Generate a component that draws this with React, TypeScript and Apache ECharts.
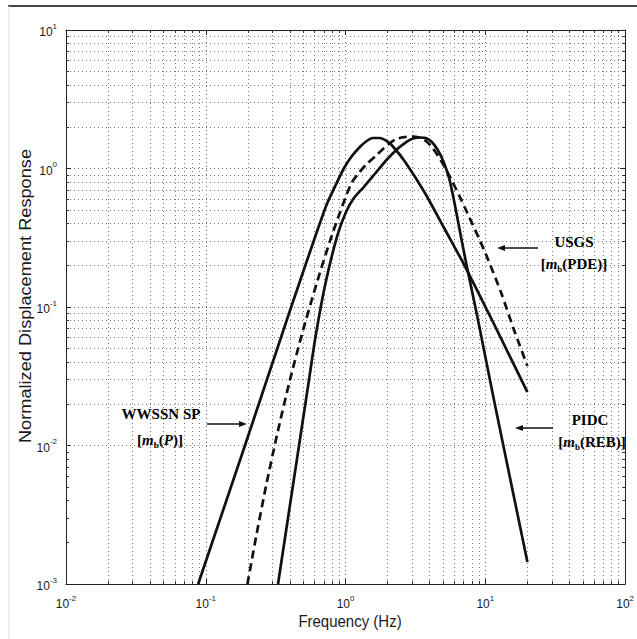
import React, { useEffect, useRef } from "react";
import * as echarts from "echarts";

// ---- data (Hz, normalized displacement response) ----
const wwssnFreq = [0.0882, 0.1891, 0.406, 0.6193, 0.7405, 0.857, 0.9759, 1.111, 1.266, 1.418, 1.563, 1.751, 1.963, 2.199, 2.672, 3.698, 5.117, 7.197, 11.53, 20];
const wwssnResp = [0.001, 0.00975, 0.0984, 0.3422, 0.5634, 0.773, 1.008, 1.231, 1.43, 1.58, 1.661, 1.661, 1.58, 1.43, 1.114, 0.6655, 0.3658, 0.1944, 0.0754, 0.0243];

const usgsFreq = [0.1987, 0.2311, 0.2717, 0.3245, 0.3937, 0.4879, 0.6193, 0.8043, 1.093, 1.245, 1.418, 1.641, 1.994, 2.308, 2.672, 3.043, 3.409, 3.758, 4.144, 4.796, 5.733, 6.528, 7.435, 9.8, 12.92, 15.95, 20];
const usgsResp = [0.001, 0.002296, 0.005272, 0.01211, 0.0278, 0.0638, 0.1466, 0.3365, 0.773, 0.9279, 1.078, 1.231, 1.478, 1.633, 1.688, 1.702, 1.661, 1.58, 1.43, 1.152, 0.826, 0.633, 0.4774, 0.258, 0.1283, 0.0694, 0.0375];

const pidcFreq = [0.3287, 0.3724, 0.422, 0.4783, 0.542, 0.6143, 0.7168, 0.871, 1.008, 1.148, 1.35, 1.641, 1.963, 2.346, 2.716, 3.043, 3.409, 3.758, 4.144, 4.566, 5.035, 5.551, 6.116, 6.636, 7.314, 8.748, 11.53, 20];
const pidcResp = [0.001, 0.002296, 0.005272, 0.01211, 0.0278, 0.0638, 0.1466, 0.3255, 0.4853, 0.612, 0.735, 0.928, 1.152, 1.383, 1.553, 1.647, 1.674, 1.661, 1.553, 1.36, 1.114, 0.826, 0.5187, 0.3365, 0.2044, 0.0861, 0.0213, 0.00144];

const xMin = 0.01, xMax = 100;
const yMin = 0.001, yMax = 10;
const xDecades = [-2, -1, 0, 1];
const yDecades = [-3, -2, -1, 0];
const minorMultipliers = [2, 3, 4, 5, 6, 7, 8, 9];

const SANS = "'Liberation Sans', Arial, Helvetica, sans-serif";
const SERIF = "'Liberation Serif', 'Times New Roman', serif";

function pairs(xs: number[], ys: number[]) {
  return xs.map((x, i) => [x, ys[i]]);
}

export default function App() {
  const ref = useRef<HTMLDivElement>(null);
  useEffect(() => {
    if (!ref.current) return;
    const chart = echarts.init(ref.current, undefined, { renderer: "svg" });

    const minorX: number[] = [];
    xDecades.forEach((d) => minorMultipliers.forEach((m) => minorX.push(m * Math.pow(10, d))));
    const minorY: number[] = [];
    yDecades.forEach((d) => minorMultipliers.forEach((m) => minorY.push(m * Math.pow(10, d))));

    const gridMinorLines: any[] = [
      ...minorX.map((v) => ({ xAxis: v })),
      ...minorY.map((v) => ({ yAxis: v })),
    ];
    const tx = 1.05, ty = 1.051;
    const minorTicks: any[] = [];
    minorX.forEach((v) => {
      minorTicks.push([{ coord: [v, yMin] }, { coord: [v, yMin * ty] }]);
      minorTicks.push([{ coord: [v, yMax] }, { coord: [v, yMax / ty] }]);
    });
    minorY.forEach((v) => {
      minorTicks.push([{ coord: [xMin, v] }, { coord: [xMin * tx, v] }]);
      minorTicks.push([{ coord: [xMax, v] }, { coord: [xMax / tx, v] }]);
    });

    const expLabel = (v: number) => {
      const e = Math.round(Math.log10(v));
      return `{b|10}{s|${e}}`;
    };
    const labelRich = {
      b: { fontSize: 12, lineHeight: 16, verticalAlign: "bottom", fontFamily: SANS, color: "#1a1a1a" },
      s: { fontSize: 8, lineHeight: 8, verticalAlign: "top", fontFamily: SANS, color: "#1a1a1a" },
    };

    const annRich = {
      t: { fontSize: 15, lineHeight: 18, fontWeight: "bold", fontFamily: SERIF, color: "#111", verticalAlign: "middle" },
      i: { fontSize: 15, lineHeight: 18, fontWeight: "bold", fontStyle: "italic", fontFamily: SERIF, color: "#111", verticalAlign: "middle" },
      sub: { fontSize: 9, lineHeight: 9, fontWeight: "bold", fontFamily: SERIF, color: "#111", verticalAlign: "bottom" },
    };
    const ann = (x: number, y: number, text: string) => ({
      type: "text",
      x,
      y,
      z: 10,
      style: { text, rich: annRich, align: "center", verticalAlign: "middle" },
    });
    const arrow = (x1: number, x2: number, y: number) => {
      const dir = x2 > x1 ? 1 : -1;
      return [
        { type: "line", z: 10, shape: { x1, y1: y, x2: x2 - dir * 4, y2: y }, style: { stroke: "#111", lineWidth: 1.6 } },
        {
          type: "polygon",
          z: 10,
          shape: { points: [[x2, y], [x2 - dir * 8, y - 3], [x2 - dir * 8, y + 3]] },
          style: { fill: "#111" },
        },
      ];
    };

    const curveStyle = { color: "#111", width: 2.7 };

    const option: any = {
      animation: false,
      backgroundColor: "#fff",
      grid: { left: 66, right: 4, top: 30, bottom: 55, containLabel: false },
      xAxis: [
        {
          type: "log",
          logBase: 10,
          min: xMin,
          max: xMax,
          axisLine: { show: true, lineStyle: { color: "#222", width: 1 } },
          axisTick: { show: true, inside: true, length: 5, lineStyle: { color: "#222" } },
          axisLabel: { formatter: expLabel, rich: labelRich, margin: 10 },
          splitLine: { show: true, lineStyle: { type: [1, 3], color: "#666", width: 1 } },
        },
        {
          type: "log",
          logBase: 10,
          min: xMin,
          max: xMax,
          position: "top",
          axisLine: { show: true, lineStyle: { color: "#222", width: 1 } },
          axisTick: { show: true, inside: true, length: 5, lineStyle: { color: "#222" } },
          axisLabel: { show: false },
          splitLine: { show: false },
        },
      ],
      yAxis: [
        {
          type: "log",
          logBase: 10,
          min: yMin,
          max: yMax,
          axisLine: { show: true, lineStyle: { color: "#222", width: 1 } },
          axisTick: { show: true, inside: true, length: 5, lineStyle: { color: "#222" } },
          axisLabel: { formatter: expLabel, rich: labelRich, margin: 9 },
          splitLine: { show: true, lineStyle: { type: [1, 3], color: "#666", width: 1 } },
        },
        {
          type: "log",
          logBase: 10,
          min: yMin,
          max: yMax,
          position: "right",
          axisLine: { show: true, lineStyle: { color: "#222", width: 1 } },
          axisTick: { show: true, inside: true, length: 5, lineStyle: { color: "#222" } },
          axisLabel: { show: false },
          splitLine: { show: false },
        },
      ],
      series: [
        {
          type: "line",
          data: [],
          z: 1,
          silent: true,
          markLine: {
            silent: true,
            symbol: ["none", "none"],
            label: { show: false },
            lineStyle: { type: [1, 3], color: "#7a7a7a", width: 1 },
            data: gridMinorLines,
          },
        },
        {
          type: "line",
          data: [],
          z: 2,
          silent: true,
          markLine: {
            silent: true,
            symbol: ["none", "none"],
            label: { show: false },
            lineStyle: { type: "solid", color: "#333", width: 1 },
            data: minorTicks,
          },
        },
        {
          name: "WWSSN SP",
          type: "line",
          z: 5,
          data: pairs(wwssnFreq, wwssnResp),
          smooth: 0.25,
          showSymbol: false,
          lineStyle: { ...curveStyle, type: "solid" },
        },
        {
          name: "USGS",
          type: "line",
          z: 5,
          data: pairs(usgsFreq, usgsResp),
          smooth: 0.25,
          showSymbol: false,
          lineStyle: { ...curveStyle, type: [8, 5] },
        },
        {
          name: "PIDC",
          type: "line",
          z: 5,
          data: pairs(pidcFreq, pidcResp),
          smooth: 0.25,
          showSymbol: false,
          lineStyle: { ...curveStyle, type: "solid" },
        },
      ],
      graphic: [
        { type: "line", z: 20, shape: { x1: 8, y1: 6, x2: 637, y2: 6 }, style: { stroke: "#444", lineWidth: 2 } },
        { type: "line", z: 20, shape: { x1: 9, y1: 6, x2: 9, y2: 639 }, style: { stroke: "#ddd", lineWidth: 1 } },
        {
          type: "text",
          x: 25,
          y: 296,
          rotation: Math.PI / 2,
          scaleX: 1.07,
          style: {
            text: "Normalized Displacement Response",
            font: `17px ${SANS}`,
            fill: "#1a1a1a",
            align: "center",
            verticalAlign: "middle",
          },
        },
        {
          type: "text",
          x: 350,
          y: 621,
          scaleY: 1.1,
          style: {
            text: "Frequency (Hz)",
            font: `15px ${SANS}`,
            fill: "#1a1a1a",
            align: "center",
            verticalAlign: "middle",
          },
        },
        ann(574, 242, "{t|USGS}"),
        ann(574, 264, "{t|[}{i|m}{sub|b}{t|(PDE)]}"),
        ann(590, 420, "{t|PIDC}"),
        ann(592, 442, "{t|[}{i|m}{sub|b}{t|(REB)]}"),
        ann(161, 414, "{t|WWSSN SP}"),
        ann(160, 440, "{t|[}{i|m}{sub|b}{t|(}{i|P}{t|)]}"),
        ...arrow(538, 497, 248),
        ...arrow(553, 515, 428),
        ...arrow(207, 247, 424),
      ],
    };

    chart.setOption(option);
    return () => chart.dispose();
  }, []);

  return (
    <div
      ref={ref}
      style={{ position: "fixed", left: 0, top: 0, width: 637, height: 639, background: "#fff" }}
    />
  );
}
